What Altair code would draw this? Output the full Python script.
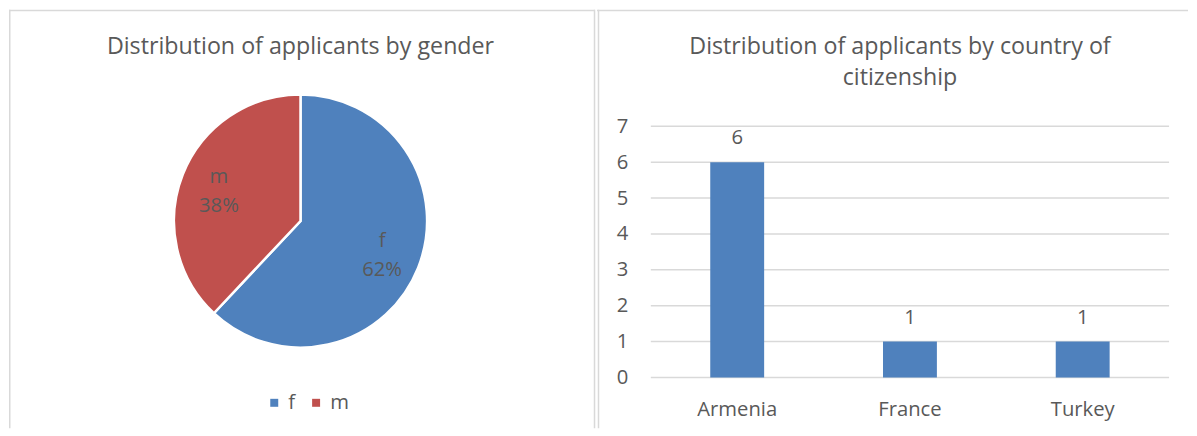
import altair as alt
import pandas as pd

# ---- data ----
genders = ["f", "m"]
gender_pct = [62, 38]
countries = ["Armenia", "France", "Turkey"]
country_counts = [6, 1, 1]
y_ticks = [0, 1, 2, 3, 4, 5, 6, 7]
title_gender = "Distribution of applicants by gender"
title_country = "Distribution of applicants by country of\ncitizenship"

# ---- style ----
FONT = "Open Sans"
TXT = "#595959"
GRID = "#d9d9d9"
BLUE = "#4f81bd"
RED = "#c0504d"
TS = 23.3   # title size
LS = 20.3   # label size
LW, RW, H = 588, 593, 420

pie_df = pd.DataFrame({"gender": genders, "pct": gender_pct})
bar_df = pd.DataFrame({"country": countries, "count": country_counts})
tick_df = pd.DataFrame({"v": y_ticks})
one = pd.DataFrame({"k": [0]})


def borders(width, xs):
    layers = [alt.Chart(one).mark_rule(color=GRID, strokeWidth=1.5).encode(
        x=alt.value(0), x2=alt.value(width), y=alt.value(0.75))]
    for xp in xs:
        layers.append(alt.Chart(one).mark_rule(color=GRID, strokeWidth=1.5).encode(
            x=alt.value(xp), y=alt.value(0), y2=alt.value(H)))
    return layers


def title_layer(text, cx, cy):
    return alt.Chart(one).mark_text(
        font=FONT, fontSize=TS, color=TXT, lineBreak="\n", lineHeight=32,
        baseline="middle", align="center"
    ).encode(x=alt.value(cx), y=alt.value(cy), text=alt.value(text))


# ---- left: pie ----
cx, cy = 292.5, 212
arc = alt.Chart(pie_df).mark_arc(outerRadius=127, stroke="white", strokeWidth=2.5).encode(
    theta=alt.Theta("pct:Q", stack=True),
    order=alt.Order("gender:N", sort="ascending"),
    color=alt.Color("gender:N", scale=alt.Scale(domain=genders, range=[BLUE, RED]),
                    legend=alt.Legend(title=None, orient="none", legendX=256, legendY=384,
                                      direction="horizontal", symbolType="square",
                                      symbolSize=64, symbolStrokeWidth=0,
                                      labelFont=FONT, labelFontSize=LS, labelColor=TXT,
                                      labelOffset=4, columnPadding=10, padding=0)),
    x=alt.value(cx), y=alt.value(cy),
)
pie_lbl = alt.Chart(pie_df).transform_calculate(
    label="datum.gender + '\\n' + datum.pct + '%'"
).mark_text(radius=88, font=FONT, fontSize=LS, color=TXT, lineBreak="\n",
            lineHeight=29, baseline="middle", dy=-12).encode(
    theta=alt.Theta("pct:Q", stack=True),
    order=alt.Order("gender:N", sort="ascending"),
    text="label:N",
    x=alt.value(cx), y=alt.value(cy),
)
left = alt.layer(*borders(LW, [0.75, 587.5]), title_layer(title_gender, 292.5, 37),
                 arc, pie_lbl).properties(width=LW, height=H)

# ---- right: bars ----
xs = alt.Scale(domain=countries, range=[54, 574], paddingInner=0.688, paddingOuter=0.344)
ys = alt.Scale(domain=[0, 7], range=[369, 117], nice=False, zero=True)
yax = alt.Axis(title=None, offset=-31, labelPadding=0, values=y_ticks)
xax = alt.Axis(title=None, offset=-29, labelPadding=0, labelAngle=0)

grid = alt.Chart(tick_df).mark_rule(color=GRID, strokeWidth=1.5).encode(
    y=alt.Y("v:Q", scale=ys, axis=yax), x=alt.value(54), x2=alt.value(574))
bars = alt.Chart(bar_df).mark_bar(color=BLUE).encode(
    x=alt.X("country:N", scale=xs, axis=xax, sort=countries),
    y=alt.Y("count:Q", scale=ys, axis=yax))
vals = alt.Chart(bar_df).mark_text(font=FONT, fontSize=LS, color=TXT, dy=-24,
                                   baseline="middle").encode(
    x=alt.X("country:N", scale=xs, axis=xax, sort=countries),
    y=alt.Y("count:Q", scale=ys, axis=yax),
    text="count:Q")
right = alt.layer(*borders(RW, [1.5]), title_layer(title_country, 304, 37),
                  grid, bars, vals).properties(width=RW, height=H)

chart = alt.hconcat(left, right, spacing=0).properties(padding=0).configure_view(
    strokeWidth=0).configure_axis(
    domain=False, ticks=False, grid=False, labelFont=FONT, labelFontSize=LS,
    labelColor=TXT)

chart.save("out.html", embed_options={"renderer": "svg", "actions": False})
